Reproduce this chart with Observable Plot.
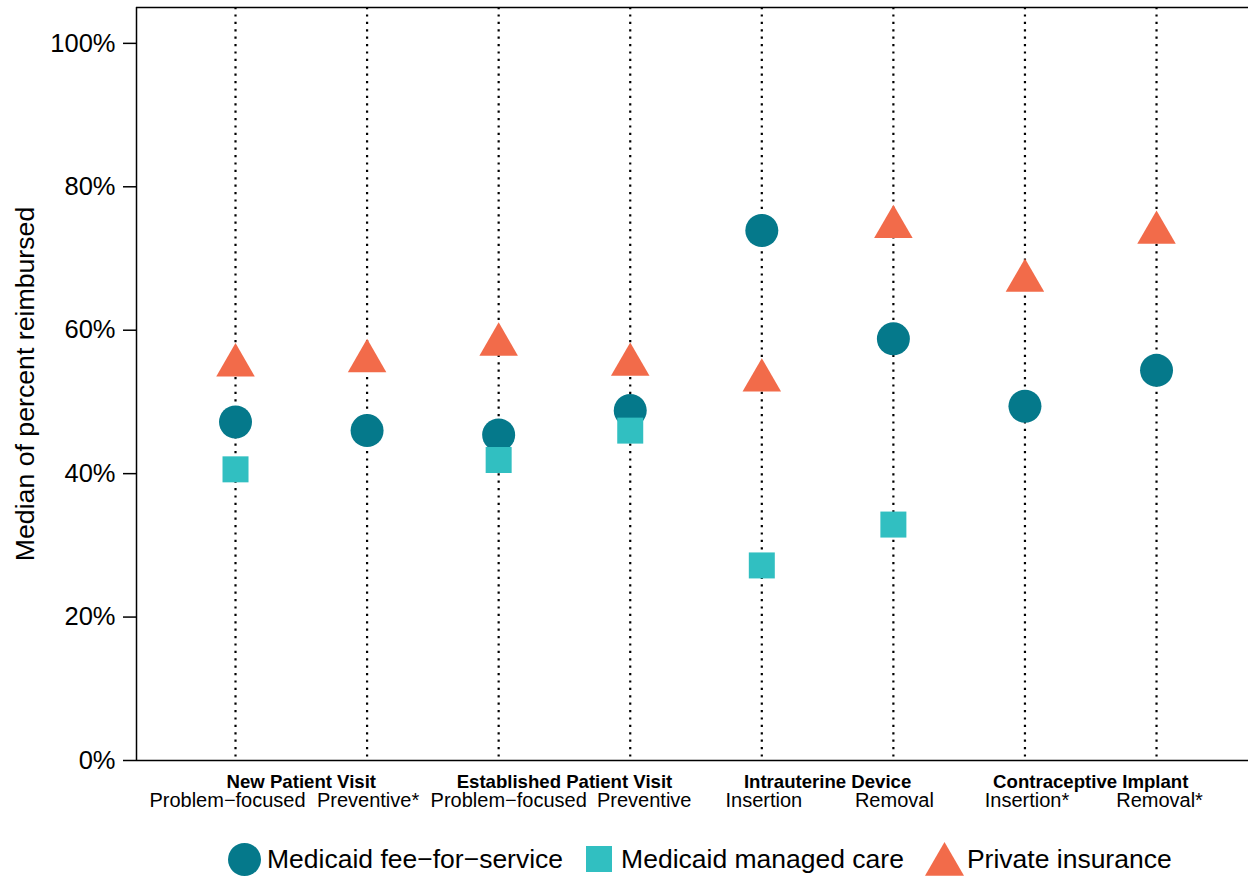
<!DOCTYPE html>
<html>
<head>
<meta charset="utf-8">
<script src="https://cdn.jsdelivr.net/npm/d3@7"></script>
<script src="https://cdn.jsdelivr.net/npm/@observablehq/plot@0.6"></script>
<style>
  body { margin: 0; background: #fff; font-family: "Liberation Sans", Arial, Helvetica, sans-serif; }
  #legend { display: flex; align-items: center; height: 78px; padding-left: 228px; font-size: 26.5px; color: #000; white-space: nowrap; }
  #legend svg { display: block; flex: none; }
</style>
</head>
<body>
<div id="chart"></div>
<div id="legend"></div>
<script>
// ---- data ----
const groups = ["New Patient Visit", "Established Patient Visit", "Intrauterine Device", "Contraceptive Implant"];
const subLabels = ["Problem−focused", "Preventive*", "Problem−focused", "Preventive", "Insertion", "Removal", "Insertion*", "Removal*"];
const feeForService = [47.2, 46.0, 45.4, 48.8, 73.9, 58.8, 49.4, 54.4];
const managedCare   = [40.6, null, 41.9, 46.0, 27.2, 32.9, null, null];
const privateIns    = [55.1, 55.7, 58.0, 55.2, 53.0, 74.4, 66.9, 73.6];
const yTicks = [0, 20, 40, 60, 80, 100];
const seriesNames = ["Medicaid fee−for−service", "Medicaid managed care", "Private insurance"];
const seriesColors = ["#05798B", "#31BFC1", "#F26B4A"];

// ---- build ----
const idx = subLabels.map((_, i) => i);
const rows = vals => vals.map((v, i) => ({i, v})).filter(d => d.v != null);
const xDomain = [-0.7525, 7.699];
const font = '"Liberation Sans", Arial, Helvetica, sans-serif';
// small horizontal nudges of the category labels, as in the original figure
const labelNudge = [-8, 1, 10, 14, 2, 1, 2, 3];

const chart = Plot.plot({
  width: 1248,
  height: 820,
  marginLeft: 136,
  marginRight: 0,
  marginTop: 7,
  marginBottom: 60,
  style: {fontFamily: font, color: "#000", background: "#fff", overflow: "visible"},
  x: {type: "linear", domain: xDomain, axis: null},
  y: {domain: [0, 105], axis: null},
  marks: [
    Plot.ruleX(idx, {x: d => d, stroke: "#000", strokeWidth: 2.2, strokeDasharray: "2.2,5.2"}),
    Plot.ruleY([0, 105], {stroke: "#000", strokeWidth: 1.5}),
    Plot.ruleX([xDomain[0]], {stroke: "#000", strokeWidth: 1.5}),
    Plot.axisY(yTicks, {tickFormat: d => d + "%", tickSize: 13, tickPadding: 8, fontSize: 25.5, label: null, strokeWidth: 1.5}),
    Plot.text(["Median of percent reimbursed"], {frameAnchor: "left", textAnchor: "middle", rotate: -90, dx: -111, fontSize: 26.7}),
    ...idx.map(i => Plot.text([i], {x: d => d, text: d => subLabels[d], frameAnchor: "bottom", dx: labelNudge[i], dy: 46.5, lineAnchor: "bottom", fontSize: 20})),
    Plot.text(groups.map((g, k) => k), {x: k => 2 * k + 0.5, text: k => groups[k], frameAnchor: "bottom", dy: 27.5, lineAnchor: "bottom", fontSize: 18.6, fontWeight: "bold"}),
    Plot.dot(rows(feeForService), {x: "i", y: "v", r: 16.5, symbol: "circle", fill: seriesColors[0]}),
    Plot.dot(rows(managedCare), {x: "i", y: "v", r: 14.67, symbol: "square", fill: seriesColors[1]}),
    Plot.dot(rows(privateIns), {x: "i", y: "v", r: 14.3, symbol: "triangle", fill: seriesColors[2]})
  ]
});
document.getElementById("chart").appendChild(chart);

// ---- legend ----
const icons = [
  `<svg width="33" height="33"><circle cx="16.5" cy="16.5" r="16.5" fill="${seriesColors[0]}"/></svg>`,
  `<svg width="26" height="26"><rect width="26" height="26" fill="${seriesColors[1]}"/></svg>`,
  `<svg width="39" height="34"><path d="M19.5,0 L39,33.8 L0,33.8 Z" fill="${seriesColors[2]}"/></svg>`
];
const gapsBefore = [0, 23, 21];
const gapsAfter = [6, 9, 3];
const legend = document.getElementById("legend");
seriesNames.forEach((name, k) => {
  const wrap = document.createElement("div");
  wrap.style.marginLeft = gapsBefore[k] + "px";
  wrap.style.marginRight = gapsAfter[k] + "px";
  wrap.innerHTML = icons[k];
  legend.appendChild(wrap);
  const span = document.createElement("span");
  span.textContent = name;
  legend.appendChild(span);
});
</script>
</body>
</html>
